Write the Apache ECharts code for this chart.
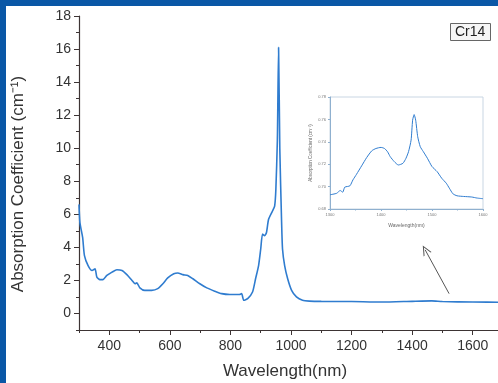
<!DOCTYPE html>
<html lang="en">
<head>
    <meta charset="UTF-8">
    <title>Cr14 absorption</title>
    <style>
        body { margin: 0; background: #fff; }
        #frame { width: 492px; height: 377px; border-top: 6px solid #0a57a6; border-left: 6px solid #0a57a6; }
        #main { width: 492px; height: 377px; }
    </style>
</head>
<body>
    <div id="frame"><div id="main"></div></div>
<script src="https://cdn.jsdelivr.net/npm/echarts@6/dist/echarts.min.js"></script>
<script>
    // main spectrum (nm, cm^-1)
    var wavelength = [300, 303, 312, 318, 330, 343, 353, 359, 369, 379, 392, 409, 425, 442, 458, 475, 485, 491, 501, 517,
        540, 560, 577, 593, 613, 626, 643, 659, 676, 699, 722, 748, 771, 798, 830, 837, 844, 857, 873, 883,
        893, 900, 906, 913, 919, 926, 939, 946, 950, 955, 959, 963, 969, 972, 979, 989, 1002, 1018, 1038, 1061,
        1100, 1200, 1300, 1400, 1465, 1500, 1600, 1700];
    var absorption = [6.6, 5.5, 4.6, 3.5, 2.9, 2.6, 2.7, 2.2, 2.05, 2.05, 2.3, 2.5, 2.65, 2.6, 2.35, 2.0, 1.8, 1.85, 1.55, 1.4,
        1.4, 1.5, 1.8, 2.15, 2.4, 2.45, 2.35, 2.3, 2.1, 1.8, 1.55, 1.35, 1.2, 1.15, 1.15, 1.2, 0.8, 0.9, 1.3, 2.1,
        2.9, 3.9, 4.8, 4.7, 4.9, 5.7, 6.2, 6.5, 7.5, 10.5, 16.1, 10.0, 5.5, 3.9, 2.9, 2.1, 1.4, 1.0, 0.8, 0.75,
        0.73, 0.72, 0.69, 0.735, 0.76, 0.72, 0.69, 0.68];

    // inset: 1300-1600 nm zoom
    var insetWavelength = [1300, 1313, 1320, 1325, 1329, 1339, 1345, 1352, 1362, 1372, 1382, 1390, 1400, 1407, 1413, 1418,
        1426, 1434, 1443, 1449, 1454, 1459, 1462, 1465, 1468, 1472, 1477, 1483, 1491, 1500, 1510, 1519,
        1528, 1534, 1541, 1549, 1562, 1578, 1588, 1600];
    var insetAbsorption = [0.6927, 0.694, 0.6965, 0.695, 0.6995, 0.7007, 0.706, 0.711, 0.7185, 0.726, 0.732, 0.734, 0.735, 0.734, 0.731, 0.7268,
        0.7223, 0.7193, 0.7208, 0.7253, 0.7312, 0.7415, 0.7593, 0.7643, 0.7593, 0.7445, 0.7356, 0.7312, 0.7253, 0.7179, 0.7134, 0.7075,
        0.703, 0.6986, 0.6936, 0.6918, 0.6912, 0.6907, 0.6898, 0.6892];

    var xLabels = [400, 600, 800, 1000, 1200, 1400, 1600];
    var xMinor = [300, 500, 700, 900, 1100, 1300, 1500, 1700];
    var yLabels = [0, 2, 4, 6, 8, 10, 12, 14, 16, 18];
    var yMinor = [-1, 1, 3, 5, 7, 9, 11, 13, 15, 17];

    var mainData = wavelength.map(function (w, i) { return [w, absorption[i]]; });
    var insetData = insetWavelength.map(function (w, i) { return [w, insetAbsorption[i]]; });

    var font = 'Liberation Sans, Arial, sans-serif';
    var axisColor = '#3d3434';
    var lineColor = '#2f7ccf';
    var insetAxis = '#8fb0cf';
    var plain = function (v) { return String(v); };

    var myChart = echarts.init(document.getElementById('main'));
    var option = {
        animation: false,
        textStyle: { fontFamily: font },
        title: {
            text: 'Cr14',
            left: 444, top: 17,
            padding: [2, 5],
            borderColor: '#666', borderWidth: 1,
            backgroundColor: '#f6f6f6',
            textStyle: { fontSize: 14, fontWeight: 'normal', color: '#222', fontFamily: font }
        },
        grid: [
            { left: 73, top: 10, width: 424, height: 314, outerBoundsMode: 'none', containLabel: false },
            { left: 324, top: 91, width: 153, height: 112, outerBoundsMode: 'none', containLabel: false,
              show: true, borderColor: '#c9d6e3', borderWidth: 1 }
        ],
        xAxis: [
            {
                type: 'value', gridIndex: 0, min: 300, max: 1700, position: 'bottom',
                name: 'Wavelength(nm)', nameLocation: 'middle', nameGap: 33,
                nameTextStyle: { fontSize: 17, color: '#333', padding: [0, 12, 0, 0] },
                axisLine: { onZero: false, lineStyle: { color: axisColor, width: 1.2 } },
                axisTick: { customValues: xLabels, length: 5, lineStyle: { color: axisColor } },
                axisLabel: { customValues: xLabels, fontSize: 14, color: '#333', margin: 9, formatter: plain },
                splitLine: { show: false }
            },
            {
                type: 'value', gridIndex: 0, min: 300, max: 1700, position: 'bottom',
                axisLine: { show: false, onZero: false },
                axisTick: { customValues: xMinor, length: 3, lineStyle: { color: axisColor } },
                axisLabel: { show: false },
                splitLine: { show: false }
            },
            {
                type: 'value', gridIndex: 1, min: 1300, max: 1600, interval: 100, position: 'bottom',
                name: 'Wavelength(nm)', nameLocation: 'middle', nameGap: 14,
                nameTextStyle: { fontSize: 5, color: '#666' },
                axisLine: { onZero: false, lineStyle: { color: insetAxis } },
                axisTick: { length: 2, lineStyle: { color: insetAxis } },
                minorTick: { show: true, splitNumber: 2, length: 1.5, lineStyle: { color: insetAxis } },
                axisLabel: { fontSize: 4, color: '#777', margin: 4, formatter: plain },
                splitLine: { show: false }
            }
        ],
        yAxis: [
            {
                type: 'value', gridIndex: 0, min: -1, max: 18, position: 'left',
                name: 'Absorption Coefficient (cm\u207B\u00B9)', nameLocation: 'middle', nameGap: 52,
                nameTextStyle: { fontSize: 17, color: '#333', padding: [0, 22, 0, 0] },
                axisLine: { onZero: false, lineStyle: { color: axisColor, width: 1.2 } },
                axisTick: { customValues: yLabels, length: 5, lineStyle: { color: axisColor } },
                axisLabel: { customValues: yLabels, fontSize: 14, color: '#333', margin: 8 },
                splitLine: { show: false }
            },
            {
                type: 'value', gridIndex: 0, min: -1, max: 18, position: 'left',
                axisLine: { show: false, onZero: false },
                axisTick: { customValues: yMinor, length: 3, lineStyle: { color: axisColor } },
                axisLabel: { show: false },
                splitLine: { show: false }
            },
            {
                type: 'value', gridIndex: 1, min: 0.68, max: 0.78, interval: 0.02, position: 'left',
                name: 'Absorption Coefficient (cm\u207B\u00B9)', nameLocation: 'middle', nameGap: 17,
                nameTextStyle: { fontSize: 4.5, color: '#666' },
                axisLine: { onZero: false, lineStyle: { color: insetAxis } },
                axisTick: { length: 2, lineStyle: { color: insetAxis } },
                axisLabel: { fontSize: 4, color: '#777', margin: 4, formatter: function (v) { return v.toFixed(2); } },
                splitLine: { show: false }
            }
        ],
        series: [
            {
                type: 'line', xAxisIndex: 0, yAxisIndex: 0, data: mainData,
                showSymbol: false, smooth: 0.2,
                lineStyle: { color: lineColor, width: 1.6 },
                markLine: {
                    silent: true, animation: false,
                    symbol: ['none', 'path://M0,10 L5,0 L10,10 L8.8,10 L5,2.4 L1.2,10 Z'],
                    symbolSize: [9, 10],
                    label: { show: false },
                    lineStyle: { color: '#555', width: 1, type: 'solid' },
                    data: [[{ coord: [1522, 1.2] }, { coord: [1443, 3.85] }]]
                }
            },
            {
                type: 'line', xAxisIndex: 2, yAxisIndex: 2, data: insetData,
                showSymbol: false, smooth: 0.2,
                lineStyle: { color: lineColor, width: 1 }
            }
        ]
    };
    option && myChart.setOption(option);
</script>
</body>
</html>
